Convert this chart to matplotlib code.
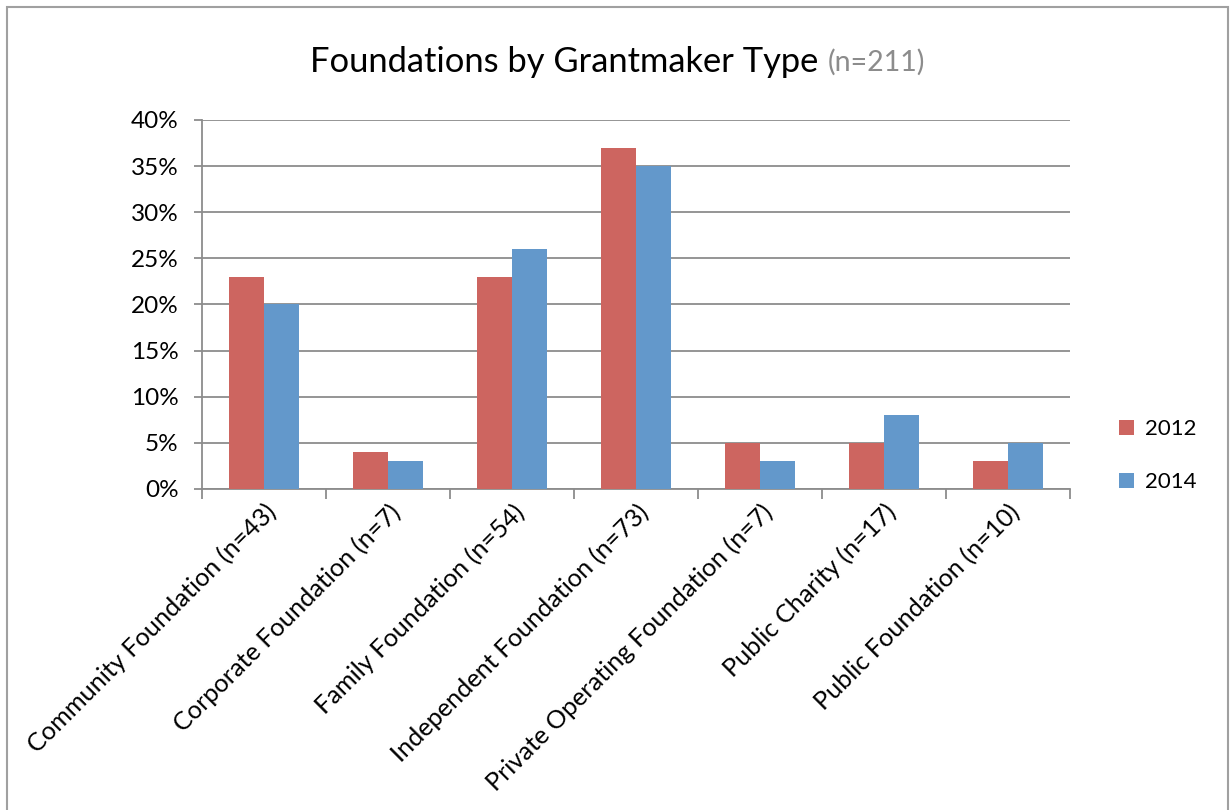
import numpy as np
import matplotlib.pyplot as plt
from matplotlib.patches import Rectangle

categories = ['Community Foundation (n=43)', 'Corporate Foundation (n=7)',
              'Family Foundation (n=54)', 'Independent Foundation (n=73)',
              'Private Operating Foundation (n=7)', 'Public Charity (n=17)',
              'Public Foundation (n=10)']
pct_2012 = [23, 4, 23, 37, 5, 5, 3]
pct_2014 = [20, 3, 26, 35, 3, 8, 5]

plt.rcParams['font.family'] = ['Lato', 'DejaVu Sans']

fig = plt.figure(figsize=(12.31, 8.1), dpi=100)
ax = fig.add_axes([0.1641, 0.3963, 0.7051, 0.4556])

x = np.arange(len(categories))
w = 0.285
ax.bar(x - w/2, pct_2012, w, color='#CD6560', label='2012', zorder=3)
ax.bar(x + w/2, pct_2014, w, color='#6398CB', label='2014', zorder=3)

ax.set_xlim(-0.5, len(categories) - 0.5)
ax.set_ylim(0, 40)
ax.set_yticks(np.arange(0, 41, 5))
ax.set_yticklabels([f'{v}%' for v in range(0, 41, 5)], fontsize=17.5)
ax.yaxis.grid(True, color='#8c8c8c', linewidth=1.3, zorder=0)

ax.set_xticks(x)
ax.set_xticklabels(categories, rotation=45, ha='right', va='top',
                   rotation_mode='anchor', fontsize=18.2)
ax.tick_params(axis='x', length=0, pad=8)
ax.set_xticks(np.arange(-0.5, len(categories)), minor=True)
ax.tick_params(axis='x', which='minor', length=7, color='#8c8c8c', width=1.3)
ax.tick_params(axis='y', length=6, color='#8c8c8c', width=1.3, pad=11)

for s in ['top', 'right']:
    ax.spines[s].set_visible(False)
for s in ['left', 'bottom']:
    ax.spines[s].set_color('#8c8c8c')
    ax.spines[s].set_linewidth(1.3)

fig.text(0.6645, 0.9235, 'Foundations by Grantmaker Type', fontsize=24.8,
         ha='right', va='center')
fig.text(0.6726, 0.9235, '(n=211)', fontsize=20.5, color='#8c8c8c',
         ha='left', va='center')

leg = ax.legend(loc='center left', bbox_to_anchor=(1.033, 0.09), frameon=False,
                fontsize=16, handlelength=0.7, handleheight=0.7,
                labelspacing=1.5, handletextpad=0.5)

fig.patches.append(Rectangle((7/1231, -0.1), 1221/1231, 1.1 - 7/810,
                             transform=fig.transFigure, fill=False,
                             edgecolor='#a0a0a0', linewidth=1.5))

plt.savefig('out.png')
